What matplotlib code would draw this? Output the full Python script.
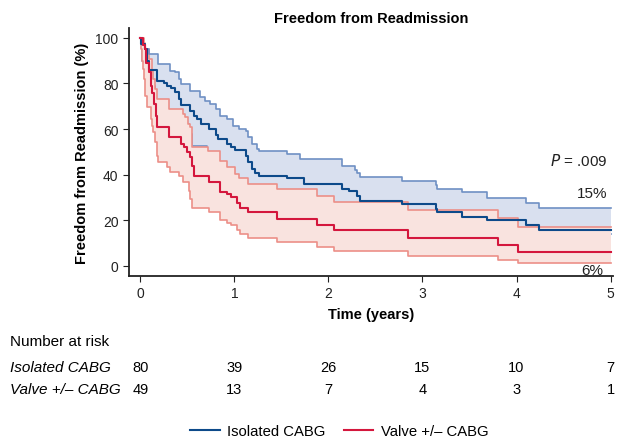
import numpy as np
import matplotlib
matplotlib.use("Agg")
import matplotlib.pyplot as plt
from matplotlib.lines import Line2D
from matplotlib.transforms import blended_transform_factory

plt.rcParams['font.family'] = ['Liberation Sans', 'DejaVu Sans']

# Kaplan-Meier estimates (time in years, survival in %)
iso_t = [0, 0.01, 0.05, 0.07, 0.09, 0.18, 0.25, 0.28, 0.33, 0.37, 0.41, 0.43, 0.53, 0.57, 0.60,
         0.65, 0.73, 0.80, 0.83, 0.92, 0.96, 1.01, 1.12, 1.15, 1.19, 1.22, 1.26, 1.56, 1.74,
         2.14, 2.22, 2.30, 2.34, 2.78, 3.14, 3.16, 3.42, 3.69, 4.10, 4.24]
iso_s = [100, 97.5, 95, 90, 86, 81.3, 80.2, 79, 77.9, 76.1, 73.2, 70.6, 68.1, 65.6, 64.4,
         62.2, 60, 57.4, 55.6, 53.4, 52, 50.8, 48.3, 45.4, 42.5, 40.7, 39.5, 38.4, 35.9,
         33.7, 32.7, 30.6, 28.5, 27.1, 24.9, 23.4, 21.2, 19.8, 17.9, 15.7]

iso_up_t = [0, 0.02, 0.05, 0.09, 0.19, 0.32, 0.37, 0.41, 0.43, 0.53, 0.64, 0.69, 0.74, 0.80,
            0.85, 0.92, 0.99, 1.05, 1.12, 1.15, 1.19, 1.24, 1.26, 1.56, 1.70, 2.14, 2.28,
            2.30, 2.34, 2.78, 3.14, 3.16, 3.42, 3.69, 4.10, 4.24]
iso_up_s = [100, 97, 95, 93, 88.6, 85.7, 84.9, 82, 79.8, 76.9, 74, 72.5, 71, 68.8,
            65.9, 64.4, 61.5, 60, 59.3, 56.4, 53.4, 51.3, 50.2, 48.8, 46.8, 43.6, 42,
            40.5, 38.8, 37.3, 35.6, 33.7, 32.2, 29.6, 27.5, 25.3]

iso_lo_t = [0, 0.02, 0.06, 0.10, 0.13, 0.16, 0.19, 0.31, 0.46, 0.52, 0.55, 0.71, 0.86, 0.93,
            1.02, 1.06, 1.16, 1.46, 1.89, 2.07, 2.86, 3.81, 4.03]
iso_lo_s = [100, 90, 88, 82, 79, 72, 67, 65, 62, 58, 52.7, 45, 43, 40,
            37, 35, 32, 30, 27, 24, 20, 16.5, 14]

valve_t = [0, 0.03, 0.05, 0.064, 0.09, 0.11, 0.12, 0.15, 0.17, 0.18, 0.30, 0.43, 0.46, 0.50,
           0.53, 0.55, 0.57, 0.73, 0.85, 0.92, 0.96, 1.03, 1.06, 1.15, 1.45, 1.88, 2.06,
           2.85, 3.80, 4.02]
valve_s = [100, 97, 95, 89, 85, 79, 76, 71, 65.9, 61, 56.4, 53.4, 52, 49.8,
           47.6, 43.9, 39.2, 36.6, 32.2, 31.5, 30, 27.5, 25.2, 23.4, 20.5, 17.9, 15.4,
           12.2, 9.2, 6.1]

valve_up_t = [0, 0.04, 0.05, 0.09, 0.12, 0.14, 0.16, 0.18, 0.30, 0.45, 0.48, 0.51, 0.53, 0.55,
              0.72, 0.85, 0.92, 1.01, 1.05, 1.15, 1.45, 1.88, 2.06, 2.85, 3.80, 4.02]
valve_up_s = [100, 98, 95, 90.8, 85.7, 82, 77.6, 73.2, 68.8, 66.6, 65.2, 62.2, 60.8, 52,
              50.5, 46.1, 43.5, 40.3, 38.4, 35.9, 33.7, 30.5, 27.8, 24.5, 21, 17.1]

valve_lo_t = [0, 0.01, 0.02, 0.03, 0.04, 0.05, 0.07, 0.11, 0.12, 0.14, 0.16, 0.18, 0.19, 0.28,
              0.32, 0.41, 0.45, 0.52, 0.53, 0.55, 0.73, 0.85, 0.92, 0.96, 1.03, 1.06, 1.15,
              1.45, 1.88, 2.06, 2.85, 3.80, 4.02]
valve_lo_s = [100, 95, 90, 86.4, 82, 74.7, 69.6, 64.4, 61.5, 58.6, 54.2, 48.3, 45.4, 43.2,
              41, 39.5, 36.6, 32.9, 29.3, 25.2, 23.4, 19.8, 18.6, 17.6, 15.4, 13.9, 12,
              10.3, 8.3, 6.6, 4.4, 2.5, 1.2]

risk_times = [0, 1, 2, 3, 4, 5]
risk_iso = [80, 39, 26, 15, 10, 7]
risk_valve = [49, 13, 7, 4, 3, 1]

T_END = 5.0

BLUE = '#0d4a8a'
BLUE_CI = '#6f90c4'
BLUE_FILL = '#d9e0ef'
RED = '#d4173d'
RED_CI = '#ec8f88'
RED_FILL = '#f9e3df'


def step_at(tk, sv, grid):
    idx = np.searchsorted(tk, grid, side='right') - 1
    return np.asarray(sv)[idx]


def ext(t, s):
    return list(t) + [T_END], list(s) + [s[-1]]


fig = plt.figure(figsize=(6.25, 4.39), dpi=100)
ax = fig.add_axes([0.2064, 0.369, 0.775, 0.565])

# blue band
g = np.unique(np.concatenate([iso_up_t, iso_lo_t, [T_END]]))
ax.fill_between(g, step_at(iso_lo_t, iso_lo_s, g), step_at(iso_up_t, iso_up_s, g),
                step='post', color=BLUE_FILL, lw=0, zorder=1)
ax.step(*ext(iso_lo_t, iso_lo_s), where='post', color=BLUE_CI, lw=1.2, zorder=1.5)

# red band on top
g = np.unique(np.concatenate([valve_up_t, valve_lo_t, [T_END]]))
ax.fill_between(g, step_at(valve_lo_t, valve_lo_s, g), step_at(valve_up_t, valve_up_s, g),
                step='post', color=RED_FILL, lw=0, zorder=2)
ax.step(*ext(valve_up_t, valve_up_s), where='post', color=RED_CI, lw=1.2, zorder=3)
ax.step(*ext(valve_lo_t, valve_lo_s), where='post', color=RED_CI, lw=1.2, zorder=3)
ax.step(*ext(iso_up_t, iso_up_s), where='post', color=BLUE_CI, lw=1.2, zorder=3)

ax.step(*ext(iso_t, iso_s), where='post', color=BLUE, lw=1.5, zorder=4)
ax.step(*ext(valve_t, valve_s), where='post', color=RED, lw=1.5, zorder=4)

ax.set_xlim(-0.12, 5.03)
ax.set_ylim(-4.6, 104.4)
ax.set_xticks(range(6))
ax.set_yticks(range(0, 101, 20))
ax.tick_params(labelsize=10, length=4, width=0.8, direction='out', colors='#222222')
for side in ['top', 'right']:
    ax.spines[side].set_visible(False)
for side in ['left', 'bottom']:
    ax.spines[side].set_linewidth(1.3)
    ax.spines[side].set_color('#222222')

ax.set_title('Freedom from Readmission', fontsize=10.5, fontweight='bold', pad=4)
ax.set_xlabel('Time (years)', fontsize=10.5, fontweight='bold', labelpad=5)
ax.set_ylabel('Freedom from Readmission (%)', fontsize=10.5, fontweight='bold', labelpad=5)

ax.text(4.97, 46.5, r'$\it{P}$ = .009', fontsize=11, ha='right', va='center', color='#222222')
ax.text(4.97, 32, '15%', fontsize=11, ha='right', va='center', color='#222222')
ax.text(4.92, -1.8, '6%', fontsize=11, ha='right', va='center', color='#222222')

# number at risk table
tr = blended_transform_factory(ax.transData, fig.transFigure)
fig.text(0.016, 0.221, 'Number at risk', fontsize=11, va='center')
fig.text(0.016, 0.162, 'Isolated CABG', fontsize=11, va='center', style='italic')
fig.text(0.016, 0.112, 'Valve +/\u2013 CABG', fontsize=11, va='center', style='italic')
for t, a, b in zip(risk_times, risk_iso, risk_valve):
    ax.text(t, 0.162, str(a), transform=tr, fontsize=10.5, ha='center', va='center')
    ax.text(t, 0.112, str(b), transform=tr, fontsize=10.5, ha='center', va='center')

handles = [Line2D([], [], color=BLUE, lw=1.5), Line2D([], [], color=RED, lw=1.5)]
fig.legend(handles, ['Isolated CABG', 'Valve +/\u2013 CABG'], loc='center',
           bbox_to_anchor=(0.543, 0.016), ncol=2, frameon=False, fontsize=10.7,
           handlelength=2.0, columnspacing=1.2, handletextpad=0.5)

fig.savefig('out.png', dpi=100)
